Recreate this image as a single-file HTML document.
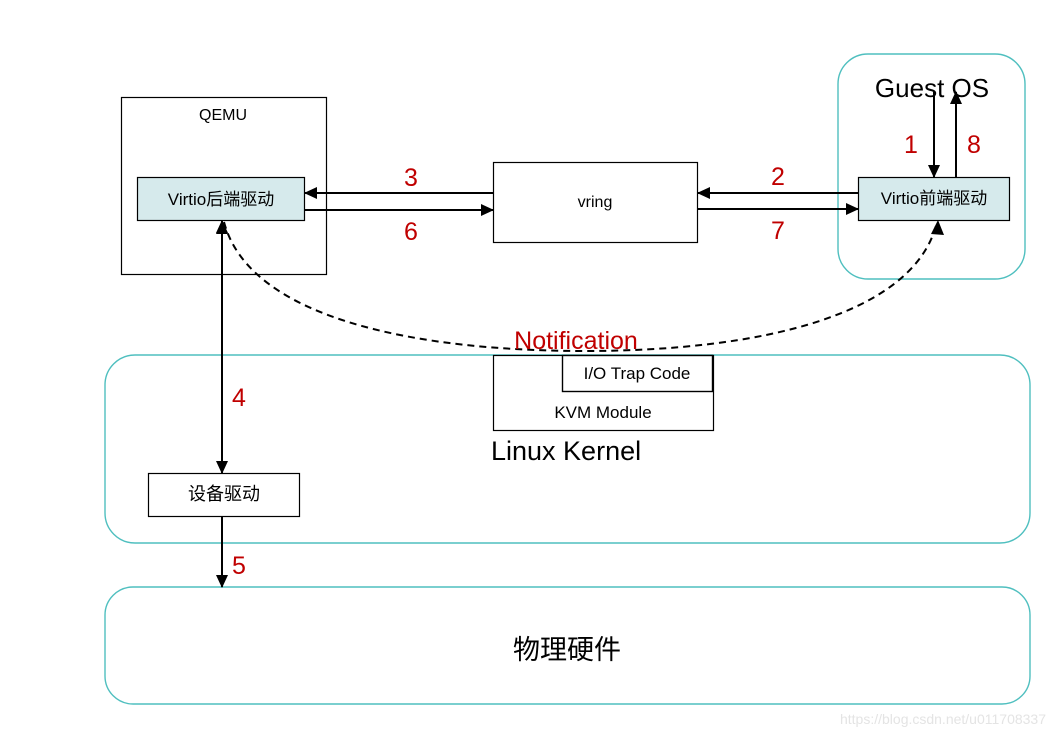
<!DOCTYPE html>
<html><head><meta charset="utf-8"><style>
html,body{margin:0;padding:0;background:#fff;}
svg{display:block;}
text{font-family:"Liberation Sans","Noto Sans CJK SC",sans-serif;}
</style></head><body>
<svg width="1056" height="737" viewBox="0 0 1056 737" xmlns="http://www.w3.org/2000/svg">
<defs>
<marker id="a" markerWidth="13" markerHeight="12" refX="12" refY="6" orient="auto" markerUnits="userSpaceOnUse">
<path d="M0,0 L13,6 L0,12 z" fill="#000"/></marker>
</defs>
<rect x="838" y="54" width="187" height="225" rx="30" fill="none" stroke="#4fbfbf" stroke-width="1.4"/>
<rect x="105" y="355" width="925" height="188" rx="30" fill="none" stroke="#4fbfbf" stroke-width="1.4"/>
<rect x="105" y="587" width="925" height="117" rx="28" fill="none" stroke="#4fbfbf" stroke-width="1.4"/>
<rect x="121.5" y="97.5" width="205" height="177" fill="none" stroke="#000" stroke-width="1.2"/>
<text x="223" y="120" font-size="16" text-anchor="middle">QEMU</text>
<rect x="137.5" y="177.5" width="167" height="43" fill="#d6eaec" stroke="#000" stroke-width="1.2"/>
<text x="221" y="205" font-size="17" text-anchor="middle">Virtio后端驱动</text>
<rect x="493.5" y="162.5" width="204" height="80" fill="#fff" stroke="#000" stroke-width="1.2"/>
<text x="595" y="207" font-size="16" text-anchor="middle">vring</text>
<text x="932" y="97" font-size="26" text-anchor="middle">Guest OS</text>
<rect x="858.5" y="177.5" width="151" height="43" fill="#d6eaec" stroke="#000" stroke-width="1.2"/>
<text x="934" y="204" font-size="17" text-anchor="middle">Virtio前端驱动</text>
<rect x="493.5" y="355.5" width="220" height="75" fill="#fff" stroke="#000" stroke-width="1.2"/>
<rect x="562.5" y="355.5" width="150" height="36" fill="#fff" stroke="#000" stroke-width="1.4"/>
<text x="637" y="379" font-size="17" text-anchor="middle">I/O Trap Code</text>
<text x="603" y="418" font-size="17" text-anchor="middle">KVM Module</text>
<text x="491" y="460" font-size="27">Linux Kernel</text>
<rect x="148.5" y="473.5" width="151" height="43" fill="#fff" stroke="#000" stroke-width="1.2"/>
<text x="224" y="500" font-size="18" text-anchor="middle">设备驱动</text>
<text x="567" y="659" font-size="27" text-anchor="middle">物理硬件</text>
<g stroke="#000" stroke-width="2" fill="none">
<line x1="493" y1="193" x2="305" y2="193" marker-end="url(#a)"/>
<line x1="305" y1="210" x2="493" y2="210" marker-end="url(#a)"/>
<line x1="858" y1="193" x2="698" y2="193" marker-end="url(#a)"/>
<line x1="698" y1="209" x2="858" y2="209" marker-end="url(#a)"/>
<line x1="934" y1="92" x2="934" y2="177" marker-end="url(#a)"/>
<line x1="956" y1="177" x2="956" y2="92" marker-end="url(#a)"/>
<line x1="222" y1="300" x2="222" y2="221" marker-end="url(#a)"/>
<line x1="222" y1="300" x2="222" y2="473" marker-end="url(#a)"/>
<line x1="222" y1="517" x2="222" y2="587" marker-end="url(#a)"/>
<path d="M224,222 C250,320 420,351 585,351 C760,351 915,315 937,222" stroke-dasharray="7,5" />
</g>
<path d="M216,234 L222,221 L228,234 z" fill="#000"/>
<path d="M931,234 L938,220 L944,235 z" fill="#000"/>
<g fill="#c00000" font-size="25" text-anchor="middle">
<text x="411" y="186">3</text>
<text x="411" y="240">6</text>
<text x="778" y="185">2</text>
<text x="778" y="239">7</text>
<text x="911" y="153">1</text>
<text x="974" y="153">8</text>
<text x="239" y="406">4</text>
<text x="239" y="574">5</text>
<text x="576" y="349" font-size="25">Notification</text>
</g>
<text x="1046" y="724" font-size="14" fill="#e4e4e4" text-anchor="end">https://blog.csdn.net/u011708337</text>
</svg>
</body></html>
